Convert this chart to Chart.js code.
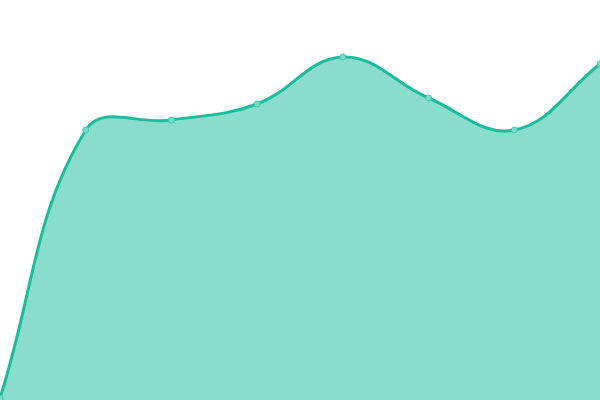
<!DOCTYPE html>
<html>
<head>
<meta charset="utf-8">
<script src="https://cdn.jsdelivr.net/npm/chart.js@4"></script>
<style>
html,body{margin:0;padding:0;background:#fff}
#wrap{width:600px;height:400px}
</style>
</head>
<body>
<div id="wrap"><canvas id="areaChart"></canvas></div>
<script>
// values (scale 0..400)
const labels=["1","2","3","4","5","6","7","8"]
const values=[2,270,280,296,343,302,270,336]

new Chart(document.getElementById("areaChart"),{
type:"line",
data:{
labels:labels,
datasets:[{
data:values,
borderColor:"#1abc9c",
backgroundColor:"rgba(26,188,156,0.51)",
borderWidth:3,
fill:true,
tension:0.4,
pointRadius:3,
pointBackgroundColor:"rgba(120,220,200,1)",
pointBorderColor:"#3cc8a8",
pointBorderWidth:1
}]
},
options:{
responsive:true,
maintainAspectRatio:false,
animation:false,
layout:{padding:0,autoPadding:false},
plugins:{legend:{display:false},tooltip:{enabled:false}},
scales:{
x:{display:false,offset:false},
y:{display:false,min:0,max:400}
}
}
})
</script>
</body>
</html>
